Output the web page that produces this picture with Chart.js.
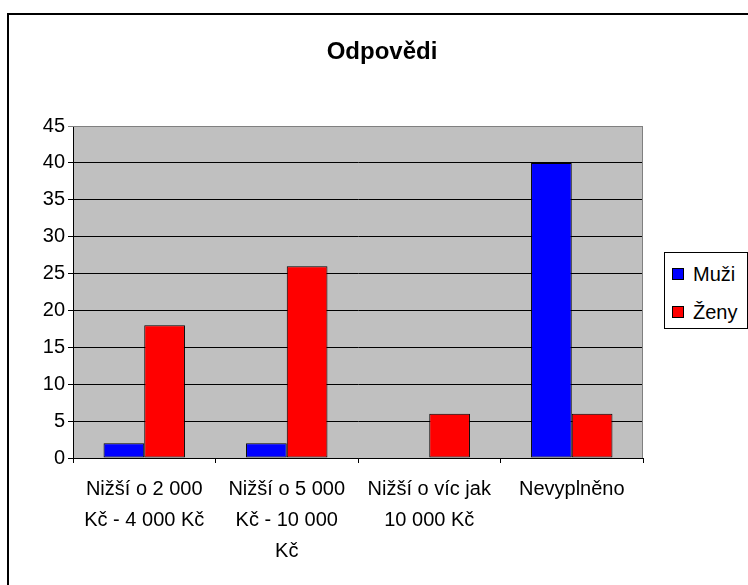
<!DOCTYPE html>
<html>
<head>
<meta charset="utf-8">
<script src="https://cdn.jsdelivr.net/npm/chart.js@4/dist/chart.umd.min.js"></script>
<style>
html,body{margin:0;padding:0;background:#fff;}
#wrap{position:relative;width:748px;height:585px;overflow:hidden;font-family:"Liberation Sans",Arial,sans-serif;color:#000;}
#frame{position:absolute;left:7px;top:13px;width:770px;height:600px;border:2px solid #000;box-sizing:border-box;}
#title{position:absolute;left:0;top:39px;width:764px;text-align:center;font-weight:bold;font-size:24px;line-height:24px;}
canvas{position:absolute;left:0;top:0;}
#legend{position:absolute;left:664px;top:252px;width:84px;height:77px;border:1px solid #000;box-sizing:border-box;background:#fff;}
.item{position:absolute;left:7px;height:24px;line-height:24px;font-size:20px;white-space:nowrap;}
.sw{position:absolute;left:0;top:6px;width:12px;height:12px;border:1px solid #000;box-sizing:border-box;}
.lab{position:absolute;left:21px;top:0;}
</style>
</head>
<body>
<div id="wrap">
  <div id="frame"></div>
  <canvas id="c" width="748" height="585"></canvas>
  <div id="title"></div>
  <div id="legend"></div>
</div>
<script>
// ---- data ----
const chartTitle = "Odpovědi";
const categories = [
  ["Nižší o 2 000", "Kč - 4 000 Kč"],
  ["Nižší o 5 000", "Kč - 10 000", "Kč"],
  ["Nižší o víc jak", "10 000 Kč"],
  "Nevyplněno"
];
const seriesNames = ["Muži", "Ženy"];
const muzi = [2, 2, 0, 40];
const zeny = [18, 26, 6, 6];
const seriesColors = ["#0000FF", "#FF0000"];
const yMin = 0, yMax = 45, yStep = 5;

document.getElementById('title').textContent = chartTitle;

// legend (HTML, real text)
const leg = document.getElementById('legend');
const rowCenters = [21, 59];
seriesNames.forEach((n, i) => {
  const it = document.createElement('div');
  it.className = 'item';
  it.style.top = (rowCenters[i] - 12) + 'px';
  const sw = document.createElement('span');
  sw.className = 'sw';
  sw.style.background = seriesColors[i];
  const lb = document.createElement('span');
  lb.className = 'lab';
  lb.textContent = n;
  it.appendChild(sw); it.appendChild(lb);
  leg.appendChild(it);
});

const plotBg = {
  id: 'plotBg',
  beforeDraw(chart) {
    const {ctx, chartArea: a} = chart;
    ctx.save();
    ctx.fillStyle = '#C0C0C0';
    ctx.fillRect(a.left, a.top, a.right - a.left, a.bottom - a.top);
    ctx.restore();
  },
  afterDatasetsDraw(chart) {
    const {ctx, chartArea: a} = chart;
    ctx.save();
    ctx.strokeStyle = '#808080';
    ctx.lineWidth = 1;
    ctx.beginPath();
    ctx.moveTo(a.left, a.top + 0.5);
    ctx.lineTo(a.right - 0.5, a.top + 0.5);
    ctx.lineTo(a.right - 0.5, a.bottom);
    ctx.stroke();
    ctx.restore();
  }
};

const font = {family: "'Liberation Sans', Arial, sans-serif", size: 20};

new Chart(document.getElementById('c'), {
  type: 'bar',
  data: {
    labels: categories,
    datasets: [
      {label: seriesNames[0], data: muzi, backgroundColor: seriesColors[0], borderColor: '#000', borderWidth: 1, borderSkipped: false},
      {label: seriesNames[1], data: zeny, backgroundColor: seriesColors[1], borderColor: '#000', borderWidth: 1, borderSkipped: false}
    ]
  },
  options: {
    responsive: false,
    animation: false,
    devicePixelRatio: 1,
    layout: {padding: {top: 126, left: 0, right: 105, bottom: 0}},
    datasets: {bar: {categoryPercentage: 2 / 3.5, barPercentage: 1}},
    plugins: {legend: {display: false}, title: {display: false}, tooltip: {enabled: false}},
    scales: {
      x: {
        grid: {offset: true, drawOnChartArea: false, color: '#000', tickLength: 5, lineWidth: 1},
        border: {color: '#000', width: 1},
        ticks: {color: '#000', font: Object.assign({lineHeight: 1.55}, font), padding: 11, maxRotation: 0, minRotation: 0, autoSkip: false},
        afterFit(s) { s.height = 127; }
      },
      y: {
        min: yMin, max: yMax,
        grid: {color: (ctx) => ctx.tick && ctx.tick.value === yMax ? '#808080' : '#000', tickLength: 5, lineWidth: 1},
        border: {color: '#000', width: 1},
        ticks: {stepSize: yStep, color: '#000', font: font, padding: 3},
        afterFit(s) { s.width = 73; }
      }
    }
  },
  plugins: [plotBg]
});
</script>
</body>
</html>
